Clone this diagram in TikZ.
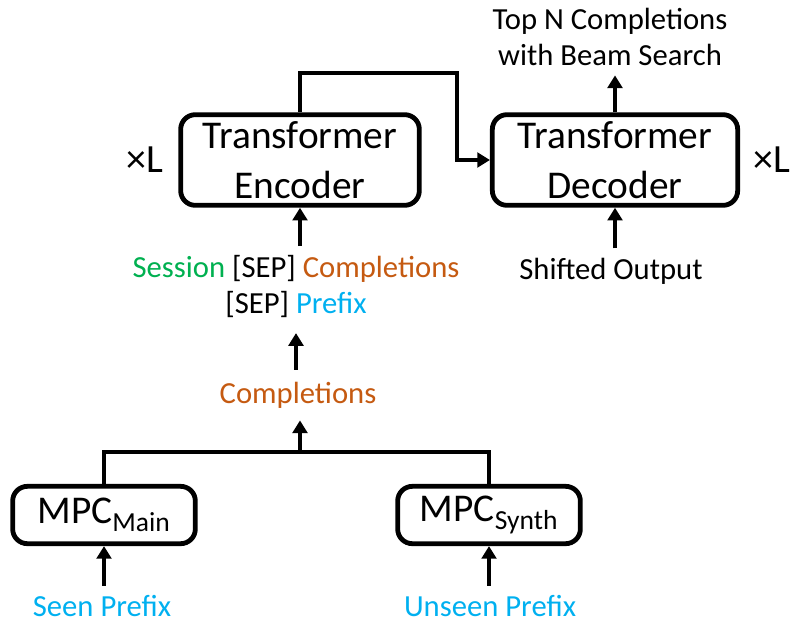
\documentclass[tikz,border=0pt]{standalone}
\usepackage{fontspec}
\setmainfont{Carlito}
\usetikzlibrary{arrows.meta, positioning, calc}
\definecolor{sessgreen}{RGB}{0,176,80}
\definecolor{comporange}{RGB}{197,90,17}
\definecolor{prefblue}{RGB}{0,176,240}

\begin{document}
\begin{tikzpicture}[x=0.75pt, y=-0.75pt, >={Triangle[length=9.5pt, width=11pt]},
  block/.style={draw, line width=3.6pt, rounded corners=11pt, align=center,
    inner sep=0pt, font=\fontsize{29.5}{37}\selectfont},
  lbl/.style={align=center, inner sep=1pt, font=\fontsize{23}{27}\selectfont},
  flow/.style={->, line width=3.6pt}]
  \useasboundingbox (0,0) rectangle (795,625);

  % Transformer blocks
  \node[block, minimum width=179pt, minimum height=68pt] (enc) at (300,160)
    {Transformer\\Encoder};
  \node[block, minimum width=184pt, minimum height=68pt] (dec) at (615,160)
    {Transformer\\Decoder};
  \node[font=\fontsize{30}{36}\selectfont] (encL) at (145,160) {×L};
  \node[font=\fontsize{30}{36}\selectfont] (decL) at (772,160) {×L};

  % MPC blocks
  \node[block, minimum width=137pt, minimum height=43pt] (main) at (104,515)
    {MPC\textsubscript{Main}};
  \node[block, minimum width=137pt, minimum height=43pt] (synth) at (489,515)
    {MPC\textsubscript{Synth}};

  % Labels
  \node[lbl] (top) at (610,37) {Top N Completions\\with Beam Search};
  \node[lbl] (shift) at (611,271) {Shifted Output};
  \node[lbl] (seq) at (296,287) {\textcolor{sessgreen}{Session} [SEP]
    \textcolor{comporange}{Completions}\\{}[SEP] \textcolor{prefblue}{Prefix}};
  \node[lbl, text=comporange] (comp) at (298,395) {Completions};
  \node[lbl, text=prefblue] (seen) at (102,606) {Seen Prefix};
  \node[lbl, text=prefblue] (unseen) at (490,606) {Unseen Prefix};

  % Connectors
  \coordinate (bend) at (457,73);
  \coordinate (join) at (300,452);
  \draw[flow] (enc.north) |- (bend) |- (dec.west);
  \draw[flow, shorten >=6pt] (dec.north) -- (dec.north |- top.south);
  \draw[flow, shorten <=6pt] (dec.south |- shift.north) -- (dec.south);
  \draw[flow, shorten <=6pt] (enc.south |- seq.north) -- (enc.south);
  \draw[flow, shorten <=8pt, shorten >=10pt] (seq.south |- comp.north) -- (seq.south);
  \draw[line width=3.6pt] (main.north) |- (join) -| (synth.north);
  \draw[flow, shorten >=8pt] (join) -- (join |- comp.south);
  \draw[flow, shorten <=6pt] (main.south |- seen.north) -- (main.south);
  \draw[flow, shorten <=6pt] (synth.south |- unseen.north) -- (synth.south);
\end{tikzpicture}
\end{document}
